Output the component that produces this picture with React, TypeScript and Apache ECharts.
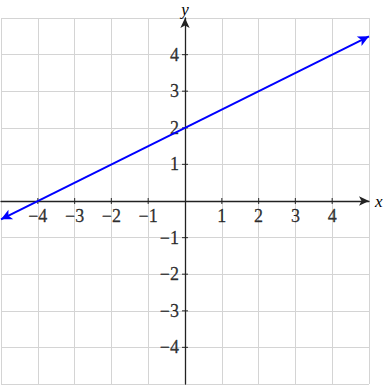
import React, { useEffect, useRef } from "react";
import * as echarts from "echarts";

const xRange = [-5, 5];
const yRange = [-5, 5];
const lineStart = [-5, -0.5];
const lineEnd = [5, 4.5];
const xTickValues = [-4, -3, -2, -1, 1, 2, 3, 4];
const yTickValues = [-4, -3, -2, -1, 1, 2, 3, 4];

const fmt = (v: number) => (v < 0 ? "\u2212" + Math.abs(v) : String(v));

export default function App() {
  const ref = useRef<HTMLDivElement>(null);
  useEffect(() => {
    const chart = echarts.init(ref.current!, null, { renderer: "svg" });
    const font = "Liberation Serif";
    const axisCommon = {
      type: "value" as const,
      interval: 1,
      axisLine: {
        show: true,
        onZero: true,
        symbol: ["none", "arrow"],
        symbolSize: [7, 10],
        lineStyle: { color: "#222", width: 1.3 },
      },
      axisTick: { show: false },
      axisLabel: { show: false },
      splitLine: { show: true, lineStyle: { color: "#d4d4d4", width: 1 } },
      nameTextStyle: { fontFamily: font, fontStyle: "italic", fontSize: 17, color: "#000" },
    };
    const labelCommon = {
      show: true,
      fontFamily: font,
      fontSize: 18,
      color: "#000",
      textBorderColor: "#000",
      textBorderWidth: 0.3,
    };
    chart.setOption({
      animation: false,
      grid: { left: 1, top: 18, width: 368, height: 366, containLabel: false, outerBoundsMode: "none" },
      xAxis: {
        ...axisCommon,
        min: xRange[0],
        max: xRange[1],
        name: "x",
        nameLocation: "end",
        nameGap: 6,
      },
      yAxis: {
        ...axisCommon,
        min: yRange[0],
        max: yRange[1],
        name: "y",
        nameLocation: "end",
        nameGap: 0,
      },
      series: [
        {
          type: "scatter",
          silent: true,
          symbol: "rect",
          symbolSize: [1.2, 6],
          itemStyle: { color: "#222" },
          data: xTickValues.map((v) => [v, 0]),
          label: {
            ...labelCommon,
            position: "bottom",
            distance: 3,
            formatter: (p: any) => fmt(p.value[0]),
          },
        },
        {
          type: "scatter",
          silent: true,
          symbol: "rect",
          symbolSize: [6, 1.2],
          itemStyle: { color: "#222" },
          data: yTickValues.map((v) => [0, v]),
          label: {
            ...labelCommon,
            position: "left",
            distance: 3,
            formatter: (p: any) => fmt(p.value[1]),
          },
        },
        {
          type: "line",
          data: [],
          silent: true,
          markLine: {
            silent: true,
            symbol: ["arrow", "arrow"],
            symbolSize: [8, 11],
            label: { show: false },
            lineStyle: { color: "#0000ff", width: 2, type: "solid" },
            data: [[{ coord: lineStart }, { coord: lineEnd }]],
          },
        },
      ],
    });
    return () => chart.dispose();
  }, []);
  return (
    <div
      ref={ref}
      style={{ position: "fixed", left: 0, top: 0, width: 385, height: 387, background: "#fff" }}
    />
  );
}
